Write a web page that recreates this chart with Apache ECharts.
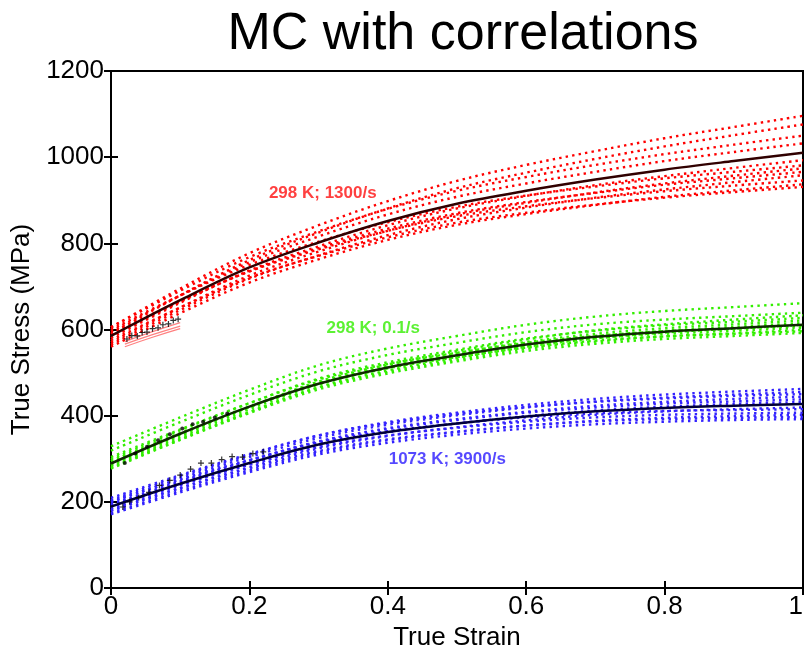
<!DOCTYPE html>
<html><head><meta charset="utf-8">
<script src="https://cdn.jsdelivr.net/npm/echarts@6/dist/echarts.min.js"></script>
<style>html,body{margin:0;padding:0;background:#fff}#c{width:807px;height:653px}</style>
</head><body><div id="c"></div>
<script>
// ---- data ----
const titleText = 'MC with correlations';
const xName = 'True Strain';
const yName = 'True Stress (MPa)';
const xTicks = [0, 0.2, 0.4, 0.6, 0.8, 1];
const yTicks = [0, 200, 400, 600, 800, 1000, 1200];
const strain = [0, 0.1, 0.2, 0.3, 0.4, 0.5, 0.6, 0.7, 0.8, 0.9, 1.0];

const redMean = [585, 668, 744, 802, 852, 892, 922, 948, 971, 991, 1010];
const redRuns = [
  [605, 695, 777, 842, 898, 945, 982, 1014, 1044, 1070, 1096],
  [590, 679, 761, 825, 881, 928, 964, 996, 1025, 1051, 1076],
  [595, 679, 756, 816, 867, 908, 939, 966, 991, 1012, 1032],
  [580, 662, 737, 793, 842, 881, 910, 935, 956, 975, 993],
  [600, 679, 750, 804, 849, 885, 911, 932, 951, 966, 981],
  [570, 651, 725, 781, 829, 867, 894, 918, 939, 957, 974],
  [585, 664, 735, 789, 834, 870, 896, 917, 936, 951, 966],
  [565, 645, 718, 772, 819, 856, 883, 906, 925, 942, 958],
  [590, 666, 735, 786, 829, 863, 886, 905, 921, 934, 946],
  [560, 638, 709, 763, 808, 843, 868, 889, 908, 923, 937],
  [575, 651, 720, 771, 814, 848, 871, 890, 906, 919, 931],
  [605, 690, 768, 828, 880, 922, 954, 982, 1007, 1029, 1050]
];

const greenMean = [289, 358, 421, 474, 512, 540, 565, 583, 595, 603, 611];
const greenRuns = [
  [329, 396, 460, 517, 556, 585, 611, 630, 643, 652, 661],
  [319, 385, 448, 503, 541, 569, 594, 612, 623, 631, 639],
  [299, 366, 429, 486, 524, 553, 579, 597, 610, 618, 627],
  [284, 351, 415, 472, 511, 540, 565, 584, 597, 606, 615],
  [294, 359, 421, 475, 512, 539, 563, 580, 590, 597, 604],
  [279, 344, 406, 461, 498, 526, 550, 567, 578, 585, 592],
  [289, 356, 420, 477, 516, 545, 571, 590, 603, 612, 621],
  [281, 347, 409, 465, 502, 530, 555, 572, 584, 591, 599],
  [304, 368, 429, 484, 520, 546, 569, 585, 596, 602, 608],
  [286, 355, 420, 479, 519, 550, 577, 598, 612, 623, 633],
  [295, 359, 420, 474, 510, 536, 558, 574, 584, 590, 596],
  [277, 344, 408, 466, 505, 534, 560, 579, 593, 602, 611]
];

const blueMean = [189, 242, 290, 333, 362, 382, 398, 410, 418, 423, 427];
const blueRuns = [
  [204, 259, 309, 354, 385, 407, 425, 439, 449, 456, 462],
  [209, 262, 311, 354, 383, 404, 420, 432, 440, 446, 450],
  [194, 248, 296, 340, 369, 390, 407, 419, 428, 433, 438],
  [179, 232, 280, 324, 353, 373, 389, 402, 410, 415, 419],
  [189, 240, 286, 327, 354, 372, 386, 396, 402, 405, 407],
  [171, 222, 269, 310, 337, 356, 370, 380, 386, 390, 392],
  [199, 254, 304, 348, 379, 401, 419, 433, 442, 449, 455],
  [184, 238, 287, 331, 361, 382, 399, 412, 421, 427, 432],
  [201, 252, 297, 338, 364, 382, 396, 405, 411, 413, 415],
  [174, 226, 273, 315, 343, 362, 377, 388, 395, 399, 402],
  [192, 246, 296, 340, 371, 392, 409, 423, 432, 439, 444],
  [181, 232, 278, 318, 345, 363, 377, 387, 392, 395, 397]
];

// experimental data
const redExpStrain = [0.023, 0.03, 0.038, 0.045, 0.052, 0.06, 0.068, 0.075, 0.083, 0.09, 0.097];
const redExpStress = [578, 586, 585, 593, 594, 602, 604, 611, 613, 621, 624];
const redExpLineStrain = [0.02, 0.06, 0.1];
const redExpLines = [
  [566, 588, 608],
  [572, 595, 616],
  [560, 582, 602]
];
const greenExpStrain = [0.02, 0.035, 0.052, 0.068, 0.085, 0.103, 0.118, 0.133, 0.15, 0.168];
const greenExpStress = [290, 312, 328, 343, 357, 370, 380, 386, 396, 405];
const blueExpStrain = [0.017, 0.027, 0.04, 0.055, 0.07, 0.085, 0.1, 0.115, 0.13, 0.145, 0.16, 0.175, 0.19, 0.205, 0.22];
const blueExpStress = [188, 200, 210, 222, 238, 250, 262, 276, 290, 290, 298, 305, 304, 312, 316];

// annotations
const annoText = ['298 K; 1300/s', '298 K; 0.1/s', '1073 K; 3900/s'];
const annoX = [0.306, 0.379, 0.486];
const annoY = [917, 603, 299];

// ---- chart ----
const FONT = "'Liberation Sans', Arial, sans-serif";
const COL = { red: '#ff0000', green: '#33ee00', blue: '#3322ff' };
const MEANCOL = { red: '#300000', green: '#0e2a00', blue: '#000038' };
const annoColors = ['#ff1010', '#33ee00', '#2a1aff'];

const series = [];
function pairs(xs, ys) { return xs.map((x, i) => [x, ys[i]]); }
function addGroup(runs, mean, key) {
  runs.forEach(r => series.push({
    type: 'line', data: pairs(strain, r), smooth: 0.35,
    symbol: 'none', silent: true, z: 2,
    lineStyle: { color: COL[key], width: 2.4, type: [2.4, 4.2] }
  }));
  series.push({
    type: 'line', data: pairs(strain, mean), smooth: 0.35,
    symbol: 'none', silent: true, z: 4,
    lineStyle: { color: MEANCOL[key], width: 2.5 }
  });
}
addGroup(redRuns, redMean, 'red');
addGroup(greenRuns, greenMean, 'green');
addGroup(blueRuns, blueMean, 'blue');

redExpLines.forEach(l => series.push({
  type: 'line', data: pairs(redExpLineStrain, l), smooth: true, symbol: 'none', silent: true, z: 3,
  lineStyle: { color: '#ff8080', width: 1.2 }
}));
const cross = 'path://M4,0H6V4H10V6H6V10H4V6H0V4H4Z';
series.push({ type: 'scatter', data: pairs(redExpStrain, redExpStress), symbol: cross, symbolSize: 6, z: 6, itemStyle: { color: '#000' } });
series.push({ type: 'scatter', data: pairs(greenExpStrain, greenExpStress), symbol: 'circle', symbolSize: 4, z: 6, itemStyle: { color: '#000' } });
series.push({ type: 'scatter', data: pairs(blueExpStrain, blueExpStress), symbol: cross, symbolSize: 6, z: 6, itemStyle: { color: '#000' } });

annoText.forEach((t, i) => series.push({
  type: 'scatter', data: [[annoX[i], annoY[i]]], symbolSize: 1, z: 7,
  itemStyle: { color: 'rgba(0,0,0,0)' },
  label: { show: true, position: 'inside', formatter: t, color: annoColors[i], fontFamily: FONT, fontWeight: 'bold', fontSize: 17 }
}));

const axisCommon = {
  axisLine: { show: true, lineStyle: { color: '#000', width: 2 } },
  axisTick: { show: true, inside: true, length: 7, lineStyle: { color: '#000', width: 2 } },
  splitLine: { show: false }
};

const chart = echarts.init(document.getElementById('c'), null, { renderer: 'canvas' });
chart.setOption({
  animation: false,
  backgroundColor: '#fff',
  title: {
    text: titleText, left: 458, top: 4, textAlign: 'center',
    textStyle: { fontFamily: FONT, fontSize: 52, fontWeight: 'normal', color: '#000' }
  },
  grid: { left: 111, right: 4, top: 71, bottom: 65, containLabel: false, outerBoundsMode: 'none', show: true, borderColor: '#000', borderWidth: 2 },
  xAxis: [
    Object.assign({
      type: 'value', min: xTicks[0], max: xTicks[xTicks.length - 1], interval: 0.2,
      name: xName, nameLocation: 'middle', nameGap: 34,
      nameTextStyle: { fontFamily: FONT, fontSize: 26, color: '#000' },
      axisLabel: { fontFamily: FONT, fontSize: 26, color: '#000', margin: 6, alignMaxLabel: 'right', formatter: v => String(+v.toFixed(1)) }
    }, axisCommon),
    Object.assign({ type: 'value', position: 'top', min: 0, max: 1, interval: 0.2, axisLabel: { show: false } }, axisCommon)
  ],
  yAxis: [
    Object.assign({
      type: 'value', min: yTicks[0], max: yTicks[yTicks.length - 1], interval: 200,
      name: yName, nameLocation: 'middle', nameGap: 59,
      nameTextStyle: { fontFamily: FONT, fontSize: 26, color: '#000' },
      axisLabel: { fontFamily: FONT, fontSize: 26, color: '#000', margin: 7, formatter: v => String(v) }
    }, axisCommon),
    Object.assign({ type: 'value', position: 'right', min: 0, max: 1200, interval: 200, axisLabel: { show: false } }, axisCommon)
  ],
  series: series
});
</script></body></html>
